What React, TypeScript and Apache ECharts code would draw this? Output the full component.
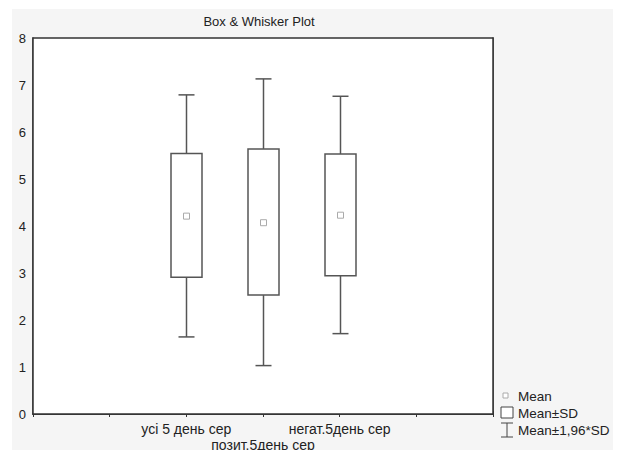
import React, { useEffect, useRef } from "react";
import * as echarts from "echarts";

const title = "Box & Whisker Plot";
const categories = ["усі 5 день сер", "позит.5день сер", "негат.5день сер"];
const means = [4.21, 4.07, 4.23];
const sdLow = [2.91, 2.53, 2.94];
const sdHigh = [5.54, 5.64, 5.53];
const ciLow = [1.64, 1.03, 1.71];
const ciHigh = [6.79, 7.13, 6.76];
const yTicks = [0, 1, 2, 3, 4, 5, 6, 7, 8];
const legendLabels = ["Mean", "Mean±SD", "Mean±1,96*SD"];

const axisSlots = ["", "", ...categories, "", ""];

export default function App() {
  const ref = useRef<HTMLDivElement>(null);
  useEffect(() => {
    if (!ref.current) return;
    const chart = echarts.init(ref.current, undefined, { renderer: "svg" });
    const font = "Liberation Sans, Arial, sans-serif";
    const data = categories.map((c, i) => [i + 2, means[i], sdLow[i], sdHigh[i], ciLow[i], ciHigh[i]]);
    chart.setOption({
      animation: false,
      backgroundColor: "#ffffff",
      textStyle: { fontFamily: font },
      grid: {
        left: 33,
        right: 125,
        top: 38,
        bottom: 36,
        show: true,
        backgroundColor: "#ffffff",
        borderColor: "#333",
        borderWidth: 1.5,
        containLabel: false,
        outerBoundsMode: "none",
        z: 1,
      },
      xAxis: [
        {
          type: "category",
          data: axisSlots,
          boundaryGap: false,
          axisLine: { lineStyle: { color: "#333", width: 1.5 } },
          axisTick: { inside: true, length: 3, interval: 0, lineStyle: { color: "#333" } },
          axisLabel: {
            interval: 0,
            margin: 7,
            fontSize: 14,
            color: "#222",
            lineHeight: 16,
            hideOverlap: false,
            formatter: (v: string, idx: number) => (idx === 3 ? "\n" + v : v),
          },
          splitLine: { show: false },
        },
        {
          type: "category",
          data: axisSlots,
          boundaryGap: false,
          position: "top",
          axisLine: { lineStyle: { color: "#333", width: 1.5 } },
          axisTick: { inside: true, length: 3, interval: 0, lineStyle: { color: "#333" } },
          axisLabel: { show: false },
        },
      ],
      yAxis: [
        {
          type: "value",
          min: 0,
          max: 8,
          interval: 1,
          axisLine: { show: true, lineStyle: { color: "#333", width: 1.5 } },
          axisTick: { show: true, inside: true, length: 3, lineStyle: { color: "#333" } },
          axisLabel: {
            margin: 7,
            fontSize: 13,
            color: "#222",
            formatter: (v: number) => (yTicks.includes(v) ? String(v) : ""),
          },
          splitLine: { show: true, lineStyle: { color: "#ddd", type: [2, 2], width: 1 } },
        },
        {
          type: "value",
          min: 0,
          max: 8,
          interval: 1,
          position: "right",
          axisLine: { show: true, lineStyle: { color: "#333", width: 1.5 } },
          axisTick: { show: true, inside: true, length: 3, lineStyle: { color: "#333" } },
          axisLabel: { show: false },
          splitLine: { show: false },
        },
      ],
      graphic: [
        {
          type: "rect",
          shape: { x: 12, y: 9, width: 601, height: 441 },
          style: { fill: "#f5f5f5" },
          z: -100,
          silent: true,
        },
        {
          type: "text",
          x: 259,
          y: 21,
          style: {
            text: title,
            fontSize: 13,
            fill: "#222",
            fontFamily: font,
            textAlign: "center",
            textVerticalAlign: "middle",
          },
          z: 10,
        },
        {
          type: "rect",
          shape: { x: 503, y: 393, width: 5, height: 5 },
          style: { fill: "#fff", stroke: "#aaa", lineWidth: 1 },
          z: 10,
        },
        {
          type: "text",
          x: 518,
          y: 396,
          style: { text: legendLabels[0], fontSize: 13.5, fill: "#222", fontFamily: font, textVerticalAlign: "middle" },
          z: 10,
        },
        {
          type: "rect",
          shape: { x: 501, y: 407, width: 12, height: 11 },
          style: { fill: "#fff", stroke: "#444", lineWidth: 1 },
          z: 10,
        },
        {
          type: "text",
          x: 518,
          y: 413,
          style: { text: legendLabels[1], fontSize: 13.5, fill: "#222", fontFamily: font, textVerticalAlign: "middle" },
          z: 10,
        },
        {
          type: "line",
          shape: { x1: 501, y1: 423, x2: 513, y2: 423 },
          style: { stroke: "#444", lineWidth: 1 },
          z: 10,
        },
        {
          type: "line",
          shape: { x1: 507, y1: 423, x2: 507, y2: 437 },
          style: { stroke: "#444", lineWidth: 1 },
          z: 10,
        },
        {
          type: "line",
          shape: { x1: 501, y1: 437, x2: 513, y2: 437 },
          style: { stroke: "#444", lineWidth: 1 },
          z: 10,
        },
        {
          type: "text",
          x: 518,
          y: 430,
          style: { text: legendLabels[2], fontSize: 13.5, fill: "#222", fontFamily: font, textVerticalAlign: "middle" },
          z: 10,
        },
      ],
      series: [
        {
          type: "custom",
          xAxisIndex: 0,
          yAxisIndex: 0,
          data,
          z: 5,
          renderItem: (params: any, api: any) => {
            const x = api.value(0);
            const pMean = api.coord([x, api.value(1)]);
            const pSdL = api.coord([x, api.value(2)]);
            const pSdH = api.coord([x, api.value(3)]);
            const pCiL = api.coord([x, api.value(4)]);
            const pCiH = api.coord([x, api.value(5)]);
            const cx = Math.round(pMean[0]) + 0.5;
            const bw = 31;
            const cw = 16;
            const stroke = "#555";
            return {
              type: "group",
              children: [
                { type: "line", shape: { x1: cx, y1: pCiH[1], x2: cx, y2: pSdH[1] }, style: { stroke, lineWidth: 1.5 } },
                { type: "line", shape: { x1: cx, y1: pSdL[1], x2: cx, y2: pCiL[1] }, style: { stroke, lineWidth: 1.5 } },
                { type: "line", shape: { x1: cx - cw / 2, y1: pCiH[1], x2: cx + cw / 2, y2: pCiH[1] }, style: { stroke, lineWidth: 1.5 } },
                { type: "line", shape: { x1: cx - cw / 2, y1: pCiL[1], x2: cx + cw / 2, y2: pCiL[1] }, style: { stroke, lineWidth: 1.5 } },
                {
                  type: "rect",
                  shape: { x: cx - bw / 2, y: pSdH[1], width: bw, height: pSdL[1] - pSdH[1] },
                  style: { fill: "#fff", stroke, lineWidth: 1.5 },
                },
                {
                  type: "rect",
                  shape: { x: cx - 3, y: pMean[1] - 3, width: 6, height: 6 },
                  style: { fill: "#fff", stroke: "#aaa", lineWidth: 1 },
                },
              ],
            };
          },
        },
      ],
    });
    return () => chart.dispose();
  }, []);
  return <div ref={ref} style={{ position: "fixed", left: 0, top: 0, width: 618, height: 450 }} />;
}
